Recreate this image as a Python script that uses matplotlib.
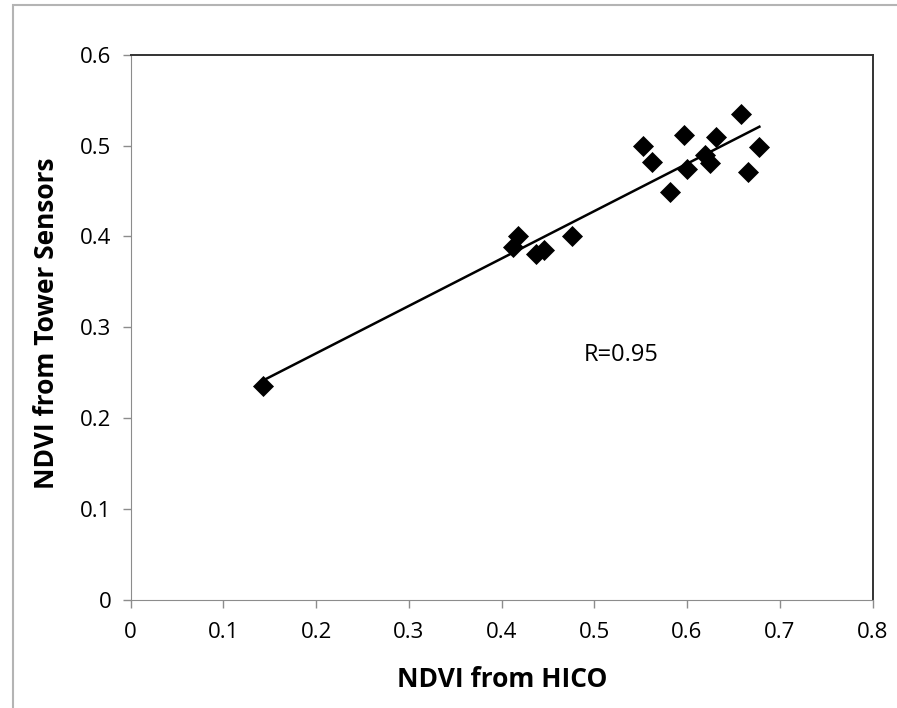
import numpy as np
import matplotlib
matplotlib.use("Agg")
import matplotlib.pyplot as plt
from matplotlib.patches import Rectangle

hico = [0.143, 0.412, 0.418, 0.437, 0.446, 0.476, 0.553, 0.562, 0.582,
        0.597, 0.600, 0.619, 0.625, 0.631, 0.658, 0.666, 0.678]
tower = [0.235, 0.388, 0.400, 0.381, 0.385, 0.400, 0.499, 0.482, 0.449,
         0.512, 0.474, 0.490, 0.481, 0.509, 0.535, 0.471, 0.498]
xticks = [0, 0.1, 0.2, 0.3, 0.4, 0.5, 0.6, 0.7, 0.8]
yticks = [0, 0.1, 0.2, 0.3, 0.4, 0.5, 0.6]
r_label = "R=0.95"

plt.rcParams['font.family'] = ['Open Sans', 'DejaVu Sans']

W, H = 897, 708
fig = plt.figure(figsize=(W / 100, H / 100), dpi=100)
# outer chart frame (only left and top edges visible)
fig.patches.append(Rectangle((13 / W, -0.1), 1.2, 1.1 - 5 / H, transform=fig.transFigure,
                             fill=False, edgecolor='#b4b4b4', linewidth=1.5))

left, right, top, bottom = 130.7, 872.5, 54.7, 600
ax = fig.add_axes([left / W, 1 - bottom / H, (right - left) / W, (bottom - top) / H])

x = np.array(hico)
y = np.array(tower)
ax.scatter(x, y, marker='D', s=115, color='black', zorder=3, linewidths=0)
m, b = np.polyfit(x, y, 1)
xs = np.array([x.min(), x.max()])
ax.plot(xs, m * xs + b, color='black', linewidth=1.8, zorder=2)

ax.set_xlim(0, 0.8)
ax.set_ylim(0, 0.6)
ax.set_xticks(xticks)
ax.set_yticks(yticks)
ax.set_xticklabels([f"{v:g}" for v in xticks], fontsize=16)
ax.set_yticklabels([f"{v:g}" for v in yticks], fontsize=16)
ax.tick_params(direction='out', length=6, color='#8c8c8c', width=1)
ax.tick_params(axis='x', pad=10)
ax.tick_params(axis='y', pad=8)
for s in ['left', 'bottom']:
    ax.spines[s].set_color('#8c8c8c')
for s in ['top', 'right']:
    ax.spines[s].set_color('#333333')
    ax.spines[s].set_linewidth(1.4)
ax.set_xlabel('NDVI from HICO', fontsize=19, fontweight='bold')
ax.set_ylabel('NDVI from Tower Sensors', fontsize=19, fontweight='bold')
ax.xaxis.set_label_coords(0.5005, -0.145)
ax.xaxis.label.set_va('center')
ax.yaxis.set_label_coords(-0.113, 0.508)
ax.yaxis.label.set_va('center')
ax.text(0.529, 0.270, r_label, fontsize=17, ha='center', va='center')

fig.savefig('out.png', dpi=100)
